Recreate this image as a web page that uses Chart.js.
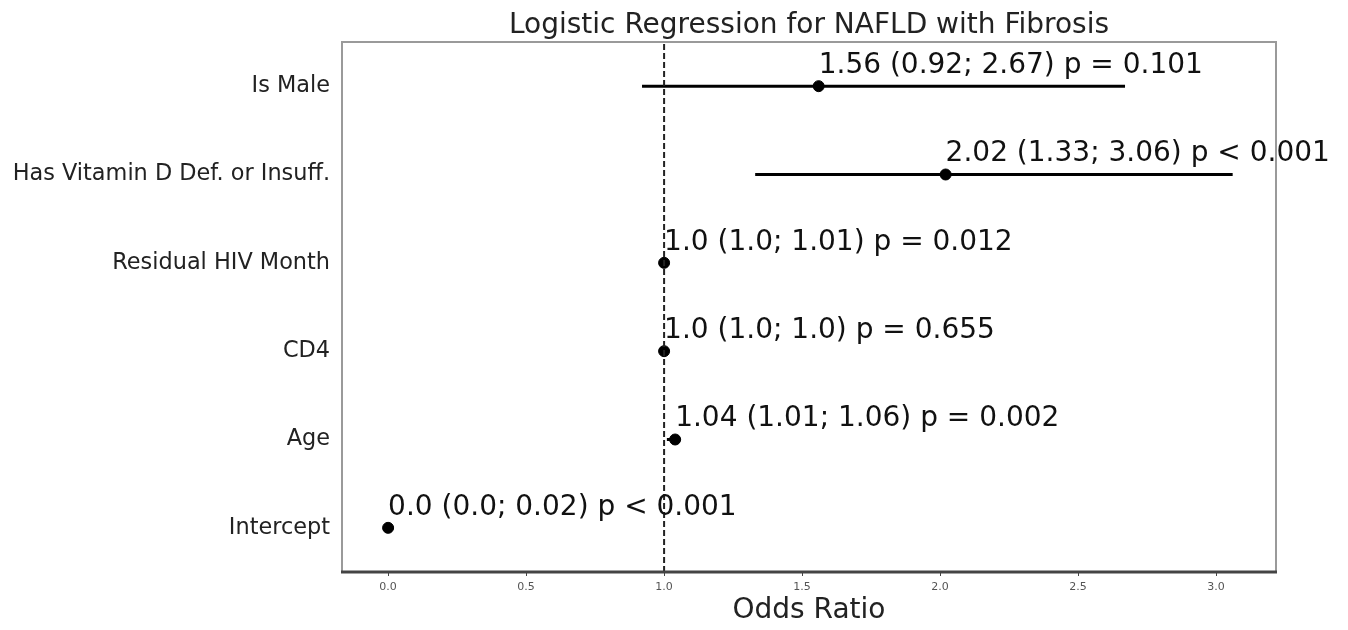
<!DOCTYPE html>
<html>
<head>
<meta charset="utf-8">
<script src="https://cdn.jsdelivr.net/npm/chart.js@4.4.1/dist/chart.umd.min.js"></script>
<style>
  html, body { margin: 0; padding: 0; background: #fff; }
  #wrap { width: 1348px; height: 630px; }
</style>
</head>
<body>
<div id="wrap"><canvas id="orChart" width="1348" height="630"></canvas></div>
<script>
// bottom to top, same order as the y axis
const variables = ["Intercept", "Age", "CD4", "Residual HIV Month", "Has Vitamin D Def. or Insuff.", "Is Male"];
const oddsRatio = [0.0, 1.04, 1.0, 1.0, 2.02, 1.56];
const ciLow = [0.0, 1.01, 1.0, 1.0, 1.33, 0.92];
const ciHigh = [0.02, 1.06, 1.0, 1.01, 3.06, 2.67];
const pText = ["p < 0.001", "p = 0.002", "p = 0.655", "p = 0.012", "p < 0.001", "p = 0.101"];
const xTicks = [0.0, 0.5, 1.0, 1.5, 2.0, 2.5, 3.0];

const FONT = "'DejaVu Sans', sans-serif";

const fmt = v => v.toFixed(v % 1 === 0 ? 1 : 2);

const ciSets = variables.map((v, i) => ({
  type: "line",
  data: [{ x: ciLow[i], y: i }, { x: ciHigh[i], y: i }],
  borderColor: "#000",
  borderWidth: 3,
  pointRadius: 0,
  fill: false
}));

const framePlugin = {
  id: "frame",
  beforeDraw(chart) {
    const { ctx } = chart;
    ctx.save();
    ctx.fillStyle = "#fff";
    ctx.fillRect(0, 0, chart.width, chart.height);
    ctx.restore();
  },
  afterDatasetsDraw(chart) {
    const { ctx, chartArea: a, scales } = chart;
    ctx.save();
    // frame
    ctx.strokeStyle = "#9a9a9a";
    ctx.lineWidth = 2;
    ctx.beginPath();
    ctx.moveTo(a.left, a.bottom);
    ctx.lineTo(a.left, a.top);
    ctx.lineTo(a.right, a.top);
    ctx.lineTo(a.right, a.bottom);
    ctx.stroke();
    ctx.strokeStyle = "#444";
    ctx.lineWidth = 3;
    ctx.beginPath();
    ctx.moveTo(a.left - 1, a.bottom);
    ctx.lineTo(a.right + 1, a.bottom);
    ctx.stroke();

    // title
    ctx.fillStyle = "#222";
    ctx.font = "28px " + FONT;
    ctx.textAlign = "center";
    ctx.textBaseline = "alphabetic";
    ctx.fillText("Logistic Regression for NAFLD with Fibrosis", (a.left + a.right) / 2, 33);

    // annotations
    ctx.textAlign = "left";
    ctx.fillStyle = "#111";
    variables.forEach((v, i) => {
      const x = scales.x.getPixelForValue(oddsRatio[i]);
      const y = scales.y.getPixelForValue(i + 0.15);
      const txt = fmt(oddsRatio[i]) + " (" + fmt(ciLow[i]) + "; " + fmt(ciHigh[i]) + ") " + pText[i];
      ctx.fillText(txt, x, y);
    });
    ctx.restore();
  }
};

new Chart(document.getElementById("orChart"), {
  type: "scatter",
  data: {
    datasets: [
      {
        type: "line",
        data: [{ x: 1, y: -0.5 }, { x: 1, y: 5.5 }],
        borderColor: "#222",
        borderWidth: 2,
        borderDash: [6, 3],
        pointRadius: 0,
        fill: false
      },
      ...ciSets,
      {
        data: oddsRatio.map((v, i) => ({ x: v, y: i })),
        backgroundColor: "#000",
        borderColor: "#000",
        pointRadius: 5.5,
        pointHoverRadius: 5.5
      }
    ]
  },
  options: {
    responsive: false,
    animation: false,
    events: [],
    layout: { padding: { top: 42, right: 72, left: 0, bottom: 0 } },
    plugins: {
      legend: { display: false },
      tooltip: { enabled: false }
    },
    scales: {
      x: {
        type: "linear",
        min: -0.167,
        max: 3.217,
        afterBuildTicks: s => { s.ticks = xTicks.map(v => ({ value: v })); },
        afterFit: s => { s.height = 58; },
        grid: { drawOnChartArea: false, drawTicks: true, tickLength: 4, color: "#444", tickWidth: 1 },
        border: { display: false },
        ticks: {
          font: { family: FONT, size: 11 },
          color: "#555",
          padding: 5,
          maxRotation: 0,
          callback: v => v.toFixed(1)
        },
        title: {
          display: true,
          text: "Odds Ratio",
          font: { family: FONT, size: 28 },
          color: "#222",
          padding: { top: 0, bottom: 2 }
        }
      },
      y: {
        type: "linear",
        min: -0.5,
        max: 5.5,
        afterBuildTicks: s => { s.ticks = variables.map((v, i) => ({ value: i })); },
        afterFit: s => { s.width = 342; },
        grid: { display: false },
        border: { display: false },
        ticks: {
          font: { family: FONT, size: 22.4 },
          color: "#222",
          padding: 4,
          callback: v => variables[v]
        }
      }
    }
  },
  plugins: [framePlugin]
});
</script>
</body>
</html>
